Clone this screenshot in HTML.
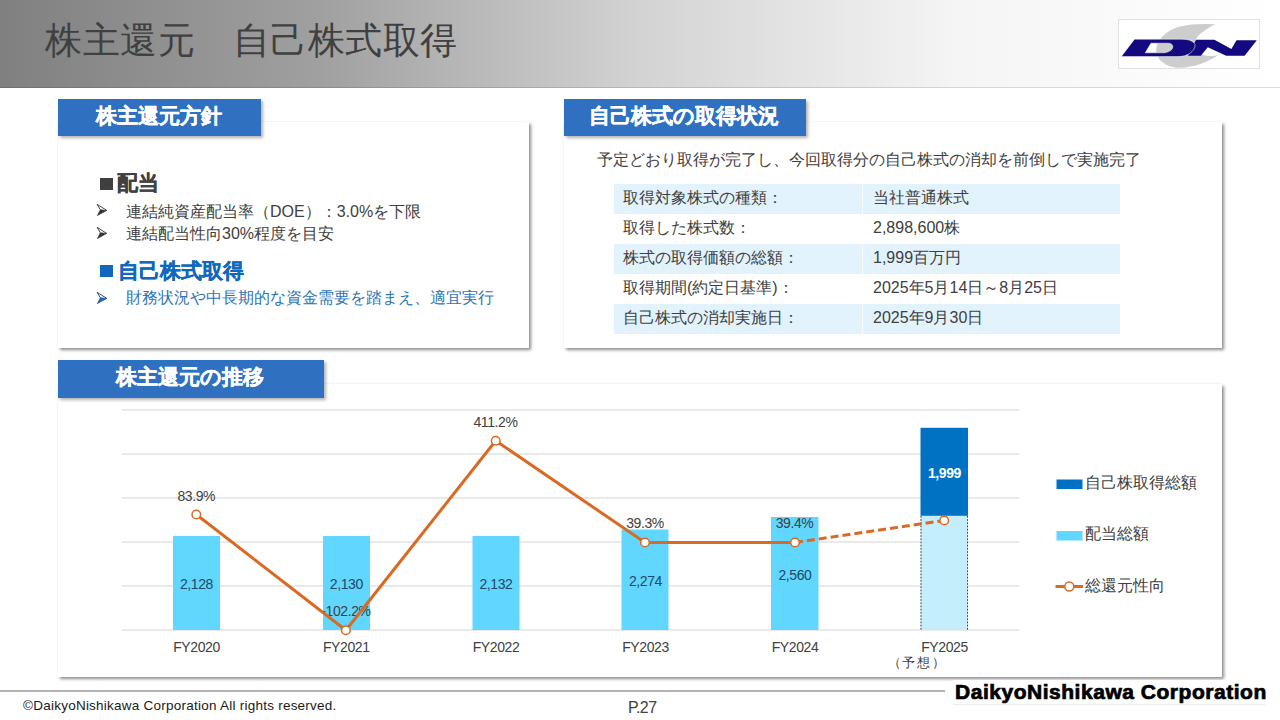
<!DOCTYPE html>
<html lang="ja">
<head>
<meta charset="utf-8">
<style>
*{margin:0;padding:0;box-sizing:border-box}
html,body{width:1280px;height:720px;overflow:hidden;background:#fff}
body{position:relative;font-family:"Liberation Sans",sans-serif;color:#404040}
.abs{position:absolute;white-space:nowrap}
#hdr{left:0;top:0;width:1280px;height:88px;background:linear-gradient(to right,#808080 0%,#a0a0a0 25%,#d3d3d3 50%,#f5f5f5 75%,#ffffff 100%);border-bottom:1px solid rgba(0,0,0,0.13)}
#title{left:45px;top:18.5px;letter-spacing:0.5px;font-size:37px;line-height:44px;color:#404040}
#logo{left:1118px;top:19px;width:142px;height:50px;background:#fff;border:1px solid #e0e0e6}
.card{position:absolute;background:#fff;box-shadow:2px 2px 3px rgba(0,0,0,0.45), -1px -1px 2px rgba(0,0,0,0.025)}
.tab{position:absolute;background:#2F70C1;color:#fff;font-weight:bold;font-size:21px;line-height:34px;-webkit-text-stroke:0.35px #fff;box-shadow:2px 2px 3px rgba(0,0,0,0.3)}
.tab span{position:absolute;top:0}
.t16{font-size:16px;line-height:20px}
.row{position:absolute;left:614px;width:506px;height:30px}
.row.b{background:#E2F3FD}
.row .c1{position:absolute;left:9px;top:4px;font-size:16px;line-height:20px}
.row .c2{position:absolute;left:259px;top:4px;font-size:16px;line-height:20px}
.row .dv{position:absolute;left:248px;top:0;width:1px;height:30px;background:rgba(255,255,255,0.7)}
</style>
</head>
<body>
<div id="hdr" class="abs"></div>
<div id="title" class="abs">株主還元　自己株式取得</div>
<div id="logo" class="abs">
<svg width="142" height="50" viewBox="0 0 142 50" style="position:absolute;left:-1px;top:-1px">
<path d="M97.2,5.4 C85,4.5 72,5 62,7.5 C48,11 38,22 38.2,31.5 C38.5,42 50,49 62,48.8 C76,48.5 90,43 100.1,36.3 C92,38 84,37 80,33 C76,28 76,21 80,17 C85,12 91,8 97.2,5.4 Z" fill="#cdcdcd"/>
<path d="M70,36.65 L82.8,36.65 L89.8,28.2 L108.2,36.65 L126.6,36.65 L138.8,21.2 L118.5,21.2 L113.4,30 L96.4,20.8 L78,20.8 Z" fill="#15097f"/>
<path d="M3.3,37.6 L16.5,20.2 L64,20.2 C72,20.2 77.5,23 77,27 C76.5,32 70,37.6 60,37.6 Z M27.2,33.8 L44.8,33.8 C50,33.8 54.6,31 54.8,28.2 C55,25.5 53,24.2 50,24.2 L33,24.2 Z" fill="#15097f" fill-rule="evenodd" stroke="#fff" stroke-width="0.5"/>
</svg>
</div>

<!-- card 1 -->
<div class="card" style="left:58px;top:122px;width:471px;height:226px"></div>
<div class="tab" style="left:58px;top:99px;width:203px;height:37px"><span style="left:38px">株主還元方針</span></div>
<div class="abs" style="left:100px;top:178px;width:13px;height:12px;background:#404040"></div>
<div class="abs" style="left:117px;top:171px;font-size:20.5px;line-height:24px;font-weight:bold;color:#404040;-webkit-text-stroke:0.3px #404040">配当</div>
<svg class="abs" style="left:96px;top:203px" width="12" height="14"><path d="M4.3,6.7 L10.7,7.4 L1.4,12.6 Z" fill="#333" stroke="#333" stroke-width="0.6"/><path d="M1.1,1.3 L10.7,7.4 M1.1,1.3 L4.3,6.7" stroke="#333" stroke-width="0.9" fill="none"/></svg>
<div class="abs t16" style="left:126px;top:201.5px">連結純資産配当率（DOE）：3.0%を下限</div>
<svg class="abs" style="left:96px;top:225.85px" width="12" height="14"><path d="M4.3,6.7 L10.7,7.4 L1.4,12.6 Z" fill="#333" stroke="#333" stroke-width="0.6"/><path d="M1.1,1.3 L10.7,7.4 M1.1,1.3 L4.3,6.7" stroke="#333" stroke-width="0.9" fill="none"/></svg>
<div class="abs t16" style="left:126px;top:224.3px">連結配当性向30%程度を目安</div>
<div class="abs" style="left:100px;top:265px;width:13px;height:12px;background:#1068BE"></div>
<div class="abs" style="left:118px;top:259px;font-size:20.5px;line-height:24px;font-weight:bold;color:#1068BE;-webkit-text-stroke:0.3px #1068BE">自己株式取得</div>
<svg class="abs" style="left:96px;top:291px" width="12" height="14"><path d="M4.3,6.7 L10.7,7.4 L1.4,12.6 Z" fill="#1F6FBF" stroke="#1a3a6a" stroke-width="0.6"/><path d="M1.1,1.3 L10.7,7.4 M1.1,1.3 L4.3,6.7" stroke="#1a3a6a" stroke-width="0.9" fill="none"/></svg>
<div class="abs t16" style="left:126px;top:288px;color:#2E75B6">財務状況や中長期的な資金需要を踏まえ、適宜実行</div>

<!-- card 2 -->
<div class="card" style="left:564px;top:122px;width:658px;height:226px"></div>
<div class="tab" style="left:564px;top:99px;width:242px;height:37px"><span style="left:24.5px">自己株式の取得状況</span></div>
<div class="abs t16" style="left:597px;top:150px">予定どおり取得が完了し、今回取得分の自己株式の消却を前倒しで実施完了</div>
<div class="row b" style="top:184px"><div class="c1">取得対象株式の種類：</div><div class="dv"></div><div class="c2">当社普通株式</div></div>
<div class="row" style="top:214px"><div class="c1">取得した株式数：</div><div class="c2">2,898,600株</div></div>
<div class="row b" style="top:244px"><div class="c1">株式の取得価額の総額：</div><div class="dv"></div><div class="c2">1,999百万円</div></div>
<div class="row" style="top:274px"><div class="c1">取得期間(約定日基準)：</div><div class="c2">2025年5月14日～8月25日</div></div>
<div class="row b" style="top:304px"><div class="c1">自己株式の消却実施日：</div><div class="dv"></div><div class="c2">2025年9月30日</div></div>

<!-- card 3 -->
<div class="card" style="left:58px;top:384px;width:1164px;height:293px"></div>
<div class="tab" style="left:58px;top:360px;width:266px;height:38px"><span style="left:58px">株主還元の推移</span></div>

<svg class="abs" style="left:0;top:0" width="1280" height="720" viewBox="0 0 1280 720">
<g stroke="#e2e2e2" stroke-width="1.6">
<line x1="122" y1="410" x2="1019" y2="410"/>
<line x1="122" y1="454" x2="1019" y2="454"/>
<line x1="122" y1="498" x2="1019" y2="498"/>
<line x1="122" y1="542" x2="1019" y2="542"/>
<line x1="122" y1="586" x2="1019" y2="586"/>
<line x1="122" y1="630" x2="1019" y2="630"/>
</g>
<g fill="#61D6FE">
<rect x="173" y="536" width="47" height="94"/>
<rect x="323" y="536" width="47" height="94"/>
<rect x="472.5" y="536" width="47" height="94"/>
<rect x="621.5" y="529.5" width="47" height="100.5"/>
<rect x="771" y="517" width="47.5" height="113"/>
</g>
<rect x="920.5" y="516" width="47.5" height="114" fill="#C4EEFC"/>
<g stroke="#3a3a3a" stroke-width="1" stroke-dasharray="1.6,1.6"><line x1="921" y1="516" x2="921" y2="630"/><line x1="967.5" y1="516" x2="967.5" y2="630"/></g>
<rect x="920.5" y="427.8" width="47.5" height="88" fill="#0072C4"/>
<g font-family="Liberation Sans, sans-serif" font-size="14" fill="#404040" text-anchor="middle" letter-spacing="-0.4">
<g fill="#1d4a66">
<text x="196.5" y="589">2,128</text>
<text x="346.3" y="589">2,130</text>
<text x="496" y="589">2,132</text>
<text x="645.5" y="586">2,274</text>
<text x="795" y="580">2,560</text>
</g>
<text x="196.3" y="500.5">83.9%</text>
<text x="346" y="616">-102.2%</text>
<text x="495.5" y="427">411.2%</text>
<text x="645" y="528">39.3%</text>
<text x="794.5" y="528">39.4%</text>
<text x="196.5" y="652">FY2020</text>
<text x="346.3" y="652">FY2021</text>
<text x="496" y="652">FY2022</text>
<text x="645.5" y="652">FY2023</text>
<text x="795" y="652">FY2024</text>
<text x="944.5" y="652">FY2025</text>
<text x="917" y="667" font-size="13" letter-spacing="1.6">（予想）</text>
<text x="944.5" y="478" fill="#fff" font-weight="bold">1,999</text>
</g>
<polyline points="196.3,514.5 345.9,630.2 495.7,440.8 645,542.5 795,542.5" fill="none" stroke="#D96A24" stroke-width="3" stroke-linejoin="round"/>
<line x1="795" y1="542.5" x2="944.2" y2="520.5" stroke="#D96A24" stroke-width="3" stroke-dasharray="8,4"/>
<g fill="#fff" stroke="#D96A24" stroke-width="1.5">
<circle cx="196.3" cy="514.5" r="4.3"/>
<circle cx="345.9" cy="630.2" r="4.3"/>
<circle cx="495.7" cy="440.8" r="4.3"/>
<circle cx="645" cy="542.5" r="4.3"/>
<circle cx="795" cy="542.5" r="4.3"/>
<circle cx="944.2" cy="520.5" r="4.3"/>
</g>
<rect x="1056.5" y="479.5" width="26" height="9.5" fill="#0072C4"/>
<rect x="1056.5" y="531" width="26" height="9.5" fill="#61D6FE"/>
<line x1="1055.5" y1="586.5" x2="1083" y2="586.5" stroke="#D96A24" stroke-width="3"/>
<circle cx="1069.3" cy="586.5" r="4.5" fill="#fff" stroke="#D96A24" stroke-width="1.5"/>
<g font-family="Liberation Sans, sans-serif" font-size="16" fill="#404040">
<text x="1085" y="487.5">自己株取得総額</text>
<text x="1085" y="539.3">配当総額</text>
<text x="1085" y="590.5">総還元性向</text>
</g>
</svg>


<!-- footer -->
<div class="abs" style="left:0;top:690px;width:945px;height:2px;background:#b2b2b2"></div>
<div class="abs" style="left:23px;top:697.5px;font-size:13.5px;line-height:16px;letter-spacing:0.24px;color:#1a1a1a">©DaikyoNishikawa Corporation All rights reserved.</div>
<div class="abs" style="left:628px;top:699px;font-size:16px;line-height:18px;letter-spacing:-0.6px;color:#404040">P.27</div>
<div class="abs" style="left:953px;top:680px;width:312px;height:25px;background:#fff;border-bottom:1px solid #ececec"></div>
<div class="abs" style="left:955px;top:681px;font-size:20px;line-height:23px;font-weight:bold;color:#000;transform-origin:0 0;transform:scaleX(1.05);letter-spacing:0.5px;-webkit-text-stroke:0.7px #000">DaikyoNishikawa Corporation</div>
</body>
</html>
